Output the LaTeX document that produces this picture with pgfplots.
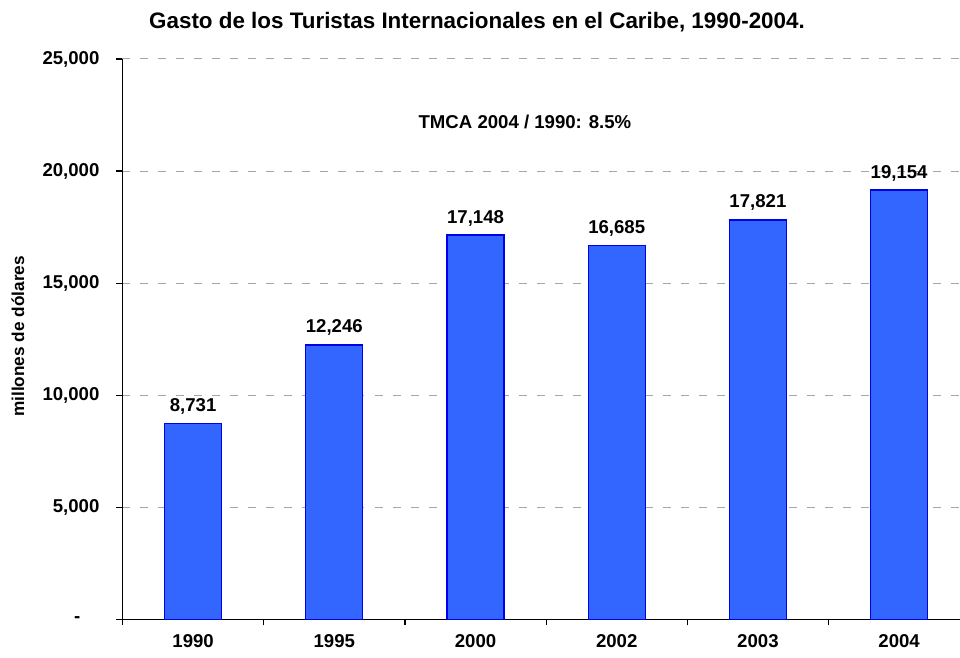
\documentclass[border=0pt]{standalone}
\usepackage{pgfplots}
\pgfplotsset{compat=1.18}
\usepackage{fontspec}
\setmainfont{Liberation Sans}
\definecolor{barfill}{RGB}{51,102,255}
\definecolor{barline}{RGB}{0,0,235}
\definecolor{gridgray}{RGB}{165,165,165}
\newcommand{\lblfont}{\fontsize{9.3}{11}\selectfont\bfseries}
\begin{document}
\begin{tikzpicture}
\useasboundingbox (0pt,0pt) rectangle (480pt,329pt);
\begin{axis}[
  at={(61.25pt,19.25pt)}, anchor=south west,
  scale only axis, width=418.75pt, height=280.25pt,
  xmin=-0.5, xmax=5.431, ymin=0, ymax=25000,
  axis lines*=left,
  axis line style={black, line width=0.6pt},
  /pgf/number format/assume math mode=true,
  scaled y ticks=false,
  xtick={0,1,2,3,4,5},
  xticklabels={1990,1995,2000,2002,2003,2004},
  major x tick style={draw=none},
  minor xtick={-0.5,0.5,1.5,2.5,3.5,4.5},
  minor tick length=3pt,
  tick align=outside,
  major tick length=3pt,
  tick style={black, line width=0.6pt},
  ytick={0,5000,10000,15000,20000,25000},
  yticklabels={{-\rule{9.5pt}{0pt}},{5,000},{10,000},{15,000},{20,000},{25,000}},
  ymajorgrids,
  grid style={gridgray, dash pattern=on 4pt off 5pt, line width=0.5pt},
  ticklabel style={font=\lblfont},
  yticklabel style={xshift=-5pt},
  xticklabel style={yshift=-1pt},
  title={Gasto de los Turistas Internacionales en el Caribe, 1990-2004.},
  title style={at={(0.4233,1.045)}, anchor=center, font=\fontsize{11.2}{13}\selectfont\bfseries},
  ylabel={millones de dólares},
  ylabel style={at={(-0.1248,0.505)}, anchor=center, font=\fontsize{8.6}{10}\selectfont\bfseries},
  clip=false,
]
\addplot[ybar, bar width=28.5pt, fill=barfill, draw=barline, line width=0.6pt,
  nodes near coords,
  nodes near coords style={font=\lblfont, anchor=base, inner sep=0pt, yshift=6pt,
    /pgf/number format/1000 sep={,}}]
  table[x=x,y=y] {
x y
0 8731
1 12246
2 17148
3 16685
4 17821
5 19154
};
\node[font=\lblfont] at (axis cs:2.35,22190) {TMCA 2004 / 1990: 8.5\%};
\end{axis}
\end{tikzpicture}
\end{document}
